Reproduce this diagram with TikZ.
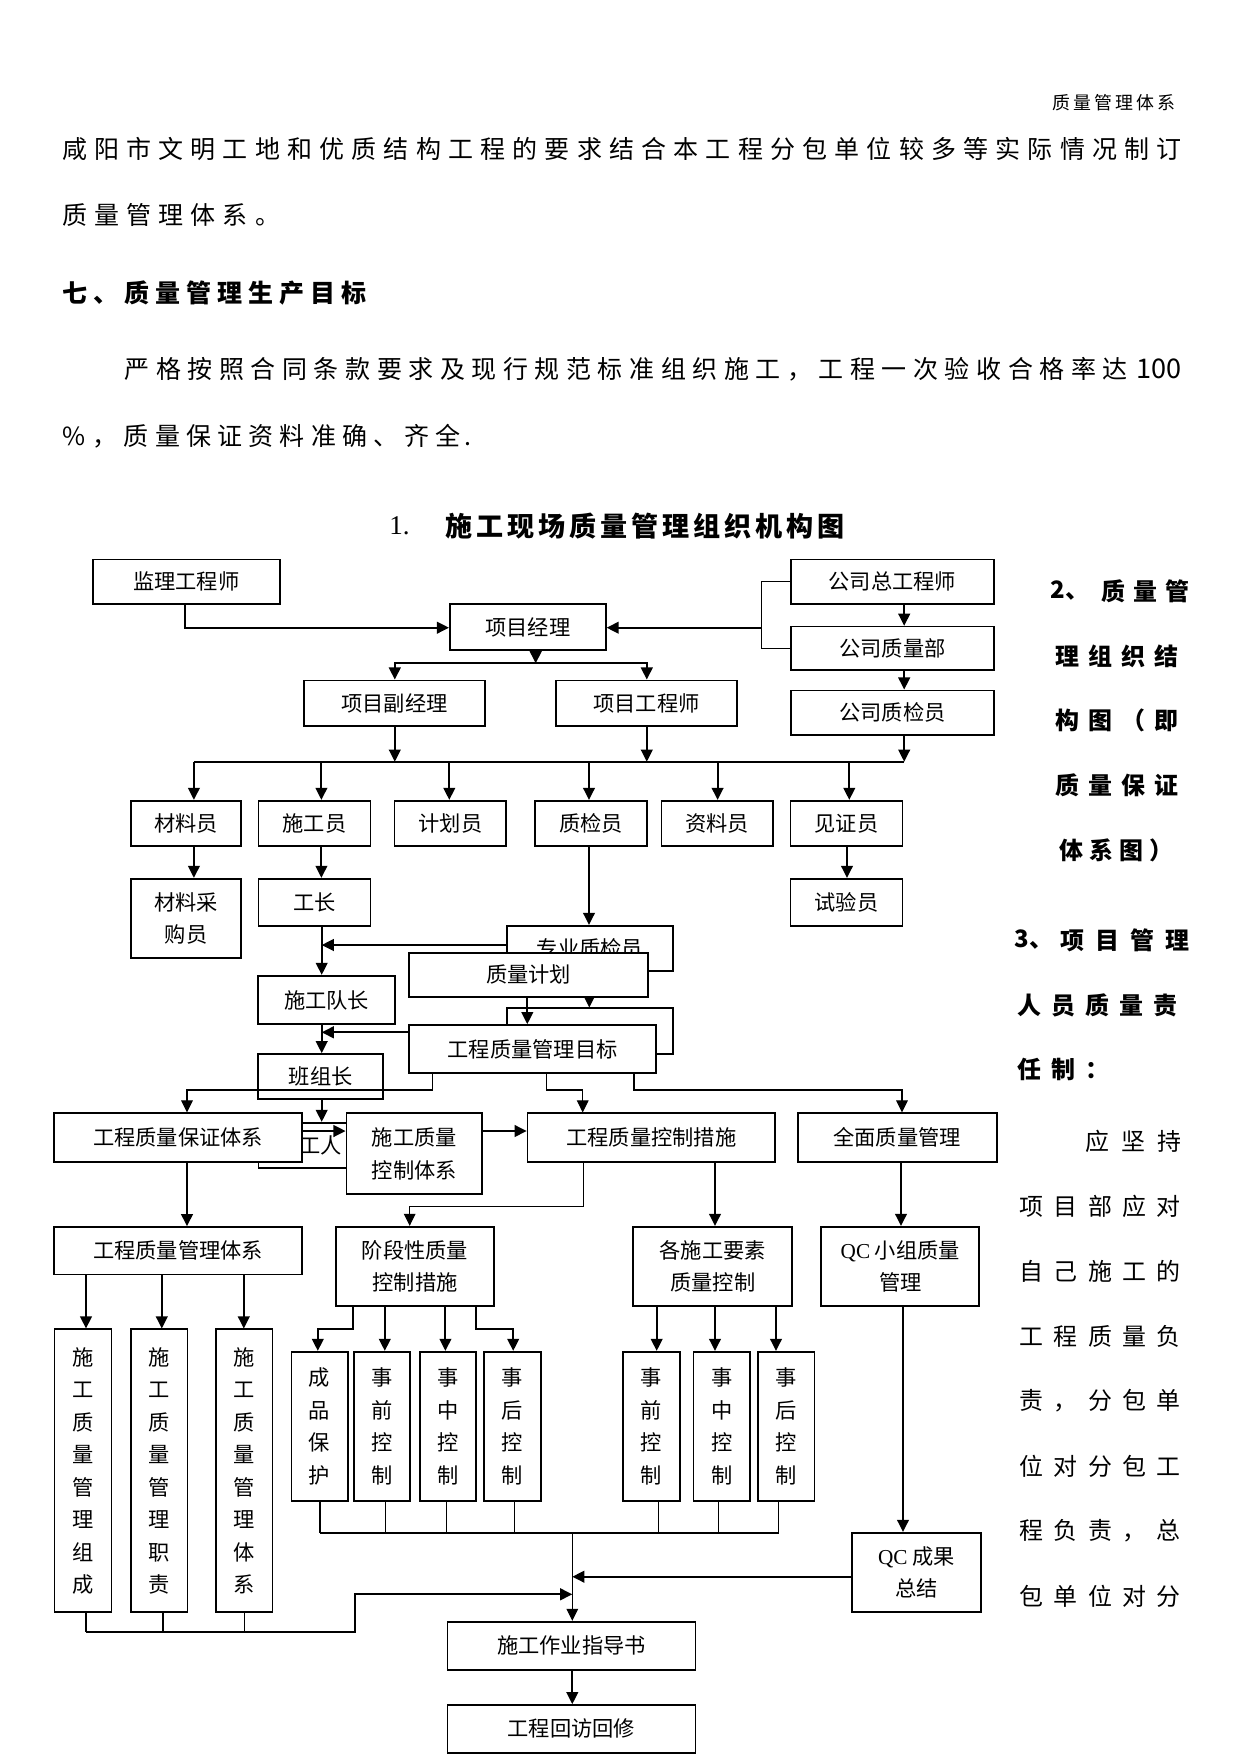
\documentclass[tikz,border=0pt]{standalone}
\usepackage{fontspec}
\setmainfont{Noto Sans CJK SC}
\newfontfamily\lat{Liberation Serif}
\usetikzlibrary{arrows.meta,fit}
\newlength\pxu \setlength\pxu{0.48pt}
\newlength\pw
\newcommand\spc[2]{\setlength\pw{#1\pxu}\spcloop#2\relax}
\def\spcloop#1{\ifx\relax#1\else\makebox[\pw]{#1}\expandafter\spcloop\fi}
% box with centred text: name, corner1, corner2, text
\newcommand\B[4]{\node[bx,fit={#2 #3}] (#1) {};\node[bxt] (#1t) at (#1.center) {#4};}
\begin{document}
\begin{tikzpicture}[x=0.48pt,y=-0.48pt,
  bx/.style={draw,line width=0.8pt,fill=white,inner sep=0pt},
  bxt/.style={inner sep=0pt,align=center,anchor=center,font=\fontsize{10.2}{15.6}\selectfont},
  arr/.style={line width=1pt,-{Triangle[length=5.8pt,width=5.6pt]}},
  thnarr/.style={line width=0.5pt,-{Triangle[length=5.8pt,width=5.6pt]}},
  ln/.style={line width=1pt},
  thn/.style={line width=0.5pt},
  tx/.style={inner sep=0pt,anchor=west},
  body/.style={tx,font=\fontsize{12}{14}\selectfont},
  rc/.style={tx,font=\fontsize{11.5}{13}\selectfont},
  rcb/.style={tx,font=\fontsize{11.5}{13}\selectfont\bfseries}]
\useasboundingbox (0,0) rectangle (1241,1754);
\fill[white] (0,0) rectangle (1241,1754);
% ---------- page text ----------
\node[tx,font=\fontsize{8.6}{10}\selectfont] (hd) at (1051,103) {\spc{21}{质量管理体系}};
\node[body] (p1) at (58,149) {\spc{32.2}{咸阳市文明工地和优质结构工程的要求结合本工程分包单位较多等实际情况制订}};
\node[body] (p2) at (58,215) {\spc{32.2}{质量管理体系。}};
\node[body,font=\fontsize{12}{14}\selectfont\bfseries] (h7) at (59,293) {\spc{31}{七、质量管理生产目标}};
\node[body] (p3) at (121,369.3) {\spc{31.55}{严格按照合同条款要求及现行规范标准组织施工，工程一次验收合格率达}};
\node[tx,font=\fontsize{13}{14}\selectfont] (p3n) at (1136,369.3) {100};
\node[body] (p4) at (58,436.4) {\spc{31.2}{\%，质量保证资料准确、齐全}.};
\node[tx,font=\fontsize{13}{14}\selectfont\lat] (t1n) at (389,526) {1.};
\node[tx,font=\fontsize{13}{14}\selectfont\bfseries] (t1) at (443,526) {\spc{31}{施工现场质量管理组织机构图}};
% right column
\node[rcb] (r1a) at (1050,591) {2、};
\node[rcb] (r1b) at (1097,591) {\spc{32}{质量管}};
\node[rcb] (r2) at (1050.5,656) {\spc{33}{理组织结}};
\node[rcb] (r3) at (1050.5,720.6) {\spc{33}{构图（即}};
\node[rcb] (r4) at (1050.5,785.5) {\spc{33}{质量保证}};
\node[rcb] (r5) at (1056,850.4) {\spc{30}{体系图）}};
\node[rcb] (r6a) at (1014,940) {3、};
\node[rcb] (r6b) at (1054.5,940) {\spc{35}{项目管理}};
\node[rcb] (r7) at (1012,1005) {\spc{34}{人员质量责}};
\node[rcb] (r8) at (1012,1069.8) {\spc{34}{任制：}};
\node[rc] (r9) at (1079,1141.4) {\spc{36}{应坚持}};
\node[rc] (r10) at (1013.9,1206) {\spc{34.3}{项目部应对}};
\node[rc] (r11) at (1013.9,1271) {\spc{34.3}{自己施工的}};
\node[rc] (r12) at (1013.9,1336) {\spc{34.3}{工程质量负}};
\node[rc] (r13) at (1013.9,1401) {\spc{34.3}{责，分包单}};
\node[rc] (r14) at (1013.9,1466) {\spc{34.3}{位对分包工}};
\node[rc] (r15) at (1013.9,1531) {\spc{34.3}{程负责，总}};
\node[rc] (r16) at (1013.9,1596) {\spc{34.3}{包单位对分}};
% ---------- top of chart ----------
\B{jl}{(92.9,559.5)}{(279.8,604.3)}{监理工程师}
\B{pm}{(449.8,604.3)}{(605.8,649.9)}{项目经理}
\B{zg}{(791.1,559.5)}{(993.7,604.3)}{公司总工程师}
\B{zlb}{(791.1,626.6)}{(993.7,670.3)}{公司质量部}
\B{zjy}{(791.1,690.4)}{(993.7,735.2)}{公司质检员}
\B{fjl}{(304.1,680.4)}{(484.9,725.8)}{项目副经理}
\B{gcs}{(555.9,680.4)}{(737.2,725.8)}{项目工程师}
\draw[arr] (jl.south -| 184.6,0) |- (pm.west |- 0,627.7);
\coordinate (rb) at (761.7,627.7);
\draw[thn] (zg.west) -| (rb) |- (zlb.west);
\draw[arr] (rb) -- (pm.east |- rb);
\draw[arr] (zg.south -| 904.2,0) -- (zlb.north -| 904.2,0);
\draw[arr] (zlb.south -| 904.2,0) -- (zjy.north -| 904.2,0);
\coordinate (b0) at (535.7,663.3);
\draw[arr] (pm.south -| b0) -- (b0);
\draw[arr,shorten <=-0.5pt] (b0) -| (fjl.north -| 394.8,0);
\draw[arr,shorten <=-0.5pt] (b0) -| (gcs.north -| 646.8,0);
\coordinate (b1l) at (193.9,761.7);
\coordinate (b1r) at (904.2,761.7);
\draw[arr] (fjl.south -| 394.8,0) -- (394.8,761.7);
\draw[arr] (gcs.south -| 646.8,0) -- (646.8,761.7);
\draw[arr] (zjy.south -| b1r) -- (b1r);
\draw[ln] (b1l) -- (b1r);
% ---------- second row ----------
\B{cly}{(131,800.7)}{(241,846)}{材料员}
\B{sgy}{(258.5,800.7)}{(370.5,846)}{施工员}
\B{jhy}{(394.5,800.7)}{(506.3,846)}{计划员}
\B{zjy2}{(535.3,800.7)}{(647,846)}{质检员}
\B{zly}{(661.5,800.7)}{(773.2,846)}{资料员}
\B{jzy}{(790.5,800.7)}{(902.5,846)}{见证员}
\draw[arr] (193.9,761.7) -- (cly.north -| 193.9,0);
\draw[arr] (321.4,761.7) -- (sgy.north -| 321.4,0);
\draw[arr] (449.3,761.7) -- (jhy.north -| 449.3,0);
\draw[arr] (589,761.7) -- (zjy2.north -| 589,0);
\draw[arr] (717.6,761.7) -- (zly.north -| 717.6,0);
\draw[arr] (849.3,761.7) -- (jzy.north -| 849.3,0);
% ---------- third row ----------
\B{clcg}{(131,878.7)}{(241,958)}{材料采\\购员}
\B{gz}{(258.5,878.7)}{(370.5,926)}{工长}
\B{syy}{(790.5,878.7)}{(902.5,926)}{试验员}
\draw[arr] (cly.south -| 193.9,0) -- (clcg.north -| 193.9,0);
\draw[arr] (sgy.south -| 321.4,0) -- (gz.north -| 321.4,0);
\draw[arr] (jzy.south -| 847,0) -- (syy.north -| 847,0);
% ---------- overlapping middle group ----------
\B{zyzj}{(506.7,925.7)}{(673.3,971)}{专业质检员}
\node[bx,fit={(506.7,1008.3) (673.3,1054)}] (hb) {};
\draw[arr] (zjy2.south -| 589,0) -- (zyzj.north -| 589,0);
\draw[arr] (zyzj.south -| 589.3,0) -- (hb.north -| 589.3,0);
\B{zljh}{(409,952.7)}{(648.3,996.7)}{质量计划}
\B{mb}{(409,1025)}{(656,1073.3)}{工程质量管理目标}
\draw[arr] (zljh.south -| 527.3,0) -- (mb.north -| 527.3,0);
\B{sgdz}{(258.3,975.7)}{(395,1024.3)}{施工队长}
\B{bzz}{(258.3,1054)}{(383.3,1099.3)}{班组长}
\draw[arr] (gz.south -| 321.7,0) -- (sgdz.north -| 321.7,0);
\draw[arr] (sgdz.south -| 321.7,0) -- (bzz.north -| 321.7,0);
\draw[arr] (zyzj.west |- 0,945) -- (321.7,945);
\draw[arr] (mb.west |- 0,1032.3) -- (321.7,1032.3);
% ---------- fourth row ----------
\B{gr}{(258.6,1122.7)}{(383.3,1167.7)}{工人}
\draw[arr] (bzz.south -| 321.7,0) -- (gr.north -| 321.7,0);
\B{bzt}{(54.3,1113.3)}{(301.8,1161.7)}{工程质量保证体系}
\B{kzt}{(346.4,1113.3)}{(482.1,1194)}{施工质量\\控制体系}
\B{kzcs}{(527.5,1113.3)}{(775,1161.7)}{工程质量控制措施}
\B{qm}{(797.7,1113.3)}{(996.7,1161.7)}{全面质量管理}
\draw[thnarr] (mb.south -| 432.3,0) |- (187,1090) -- (bzt.north -| 187,0);
\draw[thnarr] (mb.south -| 546.7,0) |- (582.7,1090) -- (kzcs.north -| 582.7,0);
\draw[thnarr] (mb.south -| 634,0) |- (902,1090) -- (qm.north -| 902,0);
\draw[arr] (bzt.east |- 0,1131) -- (kzt.west |- 0,1131);
\draw[arr] (kzt.east |- 0,1131) -- (kzcs.west |- 0,1131);
% ---------- fifth row ----------
\B{glt}{(54.3,1227)}{(301.8,1274.5)}{工程质量管理体系}
\B{jdx}{(336,1226.7)}{(494,1306)}{阶段性质量\\控制措施}
\B{ysk}{(633.3,1226.7)}{(792.3,1306)}{各施工要素\\质量控制}
\B{qcx}{(821.3,1226.7)}{(979.3,1306)}{{\lat QC} 小组质量\\管理}
\draw[arr] (bzt.south -| 187,0) -- (glt.north -| 187,0);
\draw[thnarr] (kzcs.south -| 583.3,0) |- (409.7,1206.7) -- (jdx.north -| 409.7,0);
\draw[arr] (kzcs.south -| 715,0) -- (ysk.north -| 715,0);
\draw[arr] (qm.south -| 901,0) -- (qcx.north -| 901,0);
% ---------- vertical boxes ----------
\B{a1}{(54.6,1329.3)}{(111.6,1612.3)}{施\\工\\质\\量\\管\\理\\组\\成}
\B{a2}{(130.8,1329.3)}{(187.5,1612.3)}{施\\工\\质\\量\\管\\理\\职\\责}
\B{a3}{(215.9,1329.3)}{(272.6,1612.3)}{施\\工\\质\\量\\管\\理\\体\\系}
\draw[arr] (glt.south -| 86,0) -- (a1.north -| 86,0);
\draw[arr] (glt.south -| 161.8,0) -- (a2.north -| 161.8,0);
\draw[arr] (glt.south -| 243.8,0) -- (a3.north -| 243.8,0);
\B{b1}{(291.5,1351.7)}{(347.7,1501)}{成\\品\\保\\护}
\B{b2}{(354,1351.7)}{(410,1501)}{事\\前\\控\\制}
\B{b3}{(419.8,1351.7)}{(476.3,1501)}{事\\中\\控\\制}
\B{b4}{(484,1351.7)}{(540.7,1501)}{事\\后\\控\\制}
\draw[arr] (jdx.south -| 353.4,0) |- (317.8,1329.3) -- (b1.north -| 317.8,0);
\draw[arr] (jdx.south -| 384.8,0) -- (b2.north -| 384.8,0);
\draw[arr] (jdx.south -| 445.4,0) -- (b3.north -| 445.4,0);
\draw[arr] (jdx.south -| 475.6,0) |- (513.2,1329.3) -- (b4.north -| 513.2,0);
\B{c1}{(623,1351.7)}{(680,1501)}{事\\前\\控\\制}
\B{c2}{(693.5,1351.7)}{(750,1501)}{事\\中\\控\\制}
\B{c3}{(758,1351.7)}{(814.5,1501)}{事\\后\\控\\制}
\draw[arr] (ysk.south -| 656.7,0) -- (c1.north -| 656.7,0);
\draw[arr] (ysk.south -| 715,0) -- (c2.north -| 715,0);
\draw[arr] (ysk.south -| 776,0) -- (c3.north -| 776,0);
% ---------- bottom ----------
\B{qccg}{(852,1532.7)}{(981,1612.3)}{{\lat QC} 成果\\总结}
\B{zds}{(447.4,1621.7)}{(695.4,1670)}{施工作业指导书}
\B{hf}{(447.4,1705)}{(695.4,1752.8)}{工程回访回修}
\draw[arr] (qcx.south -| 903,0) -- (qccg.north -| 903,0);
\draw[thn] (b1.south -| 320,0) -- (320,1532.7);
\draw[thn] (b2.south -| 385.2,0) -- (385.2,1532.7);
\draw[thn] (b3.south -| 446.8,0) -- (446.8,1532.7);
\draw[thn] (b4.south -| 514.5,0) -- (514.5,1532.7);
\draw[thn] (c1.south -| 658.5,0) -- (658.5,1532.7);
\draw[thn] (c2.south -| 718.8,0) -- (718.8,1532.7);
\draw[thn] (c3.south -| 778.5,0) -- (778.5,1532.7);
\draw[ln] (320,1532.7) -- (778.5,1532.7);
\draw[thnarr] (572.3,1532.7) -- (zds.north -| 572.3,0);
\draw[arr] (qccg.west |- 0,1576.7) -- (572.3,1576.7);
\draw[thn] (a1.south -| 86,0) -- (86,1632.3);
\draw[thn] (a2.south -| 163,0) -- (163,1632.3);
\draw[thn] (a3.south -| 244.3,0) -- (244.3,1632.3);
\draw[arr] (86,1632.3) -| (355,1594.3) -- (572.3,1594.3);
\draw[arr] (zds.south -| 572.3,0) -- (hf.north -| 572.3,0);
\end{tikzpicture}
\end{document}
